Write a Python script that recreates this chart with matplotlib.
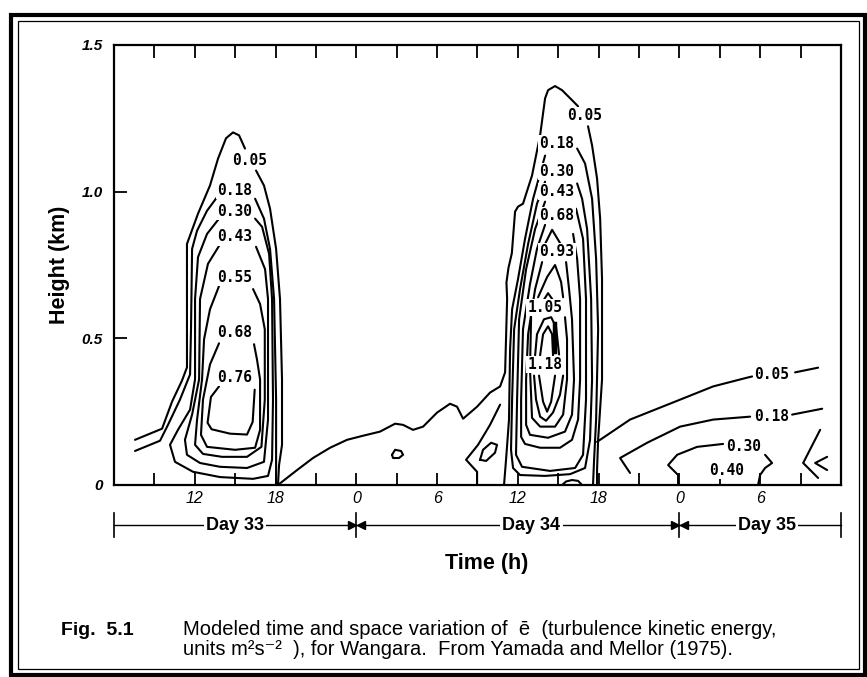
import matplotlib
matplotlib.use('Agg')
import matplotlib.pyplot as plt
from matplotlib.patches import Rectangle
from matplotlib import transforms

plt.rcParams['font.family'] = ['Liberation Sans', 'DejaVu Sans']

# traced contour lines: (time in h from Day 33 00h, height in km)
# Day 33
d33_005a = [(7.56, 0.154), (9.57, 0.192), (10.31, 0.284), (11.05, 0.356), (11.42, 0.401), (11.42, 0.822),
            (12.24, 0.925), (13.13, 1.021), (13.73, 1.113), (14.32, 1.182), (14.84, 1.202), (15.29, 1.192),
            (15.73, 1.147)]
d33_005b = [(16.55, 1.072), (17.14, 1.021), (17.59, 0.942), (18.04, 0.805), (18.33, 0.634), (18.48, 0.36),
            (18.48, 0.137), (18.26, 0.068), (18.18, 0.0)]
d33_018a = [(7.56, 0.116), (9.42, 0.151), (10.01, 0.205), (10.90, 0.291), (11.65, 0.377), (11.72, 0.531),
            (11.80, 0.805), (12.17, 0.867), (12.91, 0.935), (13.73, 0.986)]
d33_018b = [(16.48, 0.976), (17.14, 0.908), (17.59, 0.805), (17.89, 0.634), (18.04, 0.291), (18.04, 0.0)]
d33_030 = [(13.80, 0.908), (12.91, 0.856), (12.24, 0.777), (12.02, 0.634), (12.02, 0.36), (11.65, 0.257),
           (10.75, 0.188), (10.16, 0.137), (10.53, 0.079), (11.87, 0.045), (13.88, 0.027), (16.33, 0.021),
           (17.44, 0.031), (17.74, 0.086), (17.81, 0.291), (17.74, 0.634), (17.52, 0.788), (17.0, 0.88),
           (16.48, 0.908)]
d33_043 = [(13.80, 0.815), (12.98, 0.754), (12.39, 0.634), (12.32, 0.36), (11.80, 0.24), (11.27, 0.154),
           (11.42, 0.103), (12.39, 0.075), (13.88, 0.062), (15.88, 0.058), (17.14, 0.079), (17.44, 0.223),
           (17.44, 0.634), (17.22, 0.736), (16.55, 0.812)]
d33_055 = [(13.80, 0.678), (13.13, 0.599), (12.69, 0.497), (12.54, 0.36), (12.17, 0.223), (12.02, 0.137),
           (12.61, 0.106), (14.02, 0.096), (15.88, 0.096), (16.95, 0.13), (17.2, 0.291), (17.2, 0.531),
           (16.85, 0.617), (16.33, 0.668)]
d33_068 = [(13.80, 0.483), (13.13, 0.411), (12.61, 0.291), (12.46, 0.171), (12.91, 0.13), (14.99, 0.12),
           (16.48, 0.127), (16.85, 0.188), (16.85, 0.36), (16.62, 0.428), (16.40, 0.48)]
d33_076 = [(13.80, 0.336), (13.20, 0.30), (12.95, 0.212), (13.25, 0.19), (14.62, 0.175), (15.88, 0.172),
           (16.30, 0.215), (16.45, 0.325)]

# night and Day 34
d34_005a = [(18.26, 0.003), (19.60, 0.051), (20.78, 0.092), (22.05, 0.127), (23.31, 0.154), (24.50, 0.168),
            (25.76, 0.182), (26.88, 0.209), (27.47, 0.205), (28.21, 0.188), (28.96, 0.199), (30.0, 0.247),
            (30.96, 0.277), (31.48, 0.267), (31.93, 0.226), (32.97, 0.267), (33.93, 0.315), (34.68, 0.336),
            (35.05, 0.384), (35.20, 0.634), (35.15, 0.69), (35.30, 0.74), (35.55, 0.79),
            (35.79, 0.932), (36.01, 0.949), (36.38, 0.959), (37.05, 1.055), (37.65, 1.192), (38.02, 1.318),
            (38.24, 1.346), (38.76, 1.36), (39.28, 1.346), (40.02, 1.312), (40.47, 1.291)]
d34_005b = [(41.21, 1.223), (41.51, 1.158), (41.88, 1.045), (42.11, 0.908), (42.25, 0.702), (42.25, 0.36),
            (41.96, 0.154), (41.88, 0.051), (41.88, 0.0)]
d34_018a = [(38.02, 1.123), (37.65, 1.062), (37.13, 0.976), (36.53, 0.839), (36.01, 0.702), (35.57, 0.599),
            (35.42, 0.462), (35.34, 0.223), (35.12, 0.086), (34.97, 0.0)]
d34_018b = [(40.40, 1.147), (40.99, 1.096), (41.51, 0.976), (41.81, 0.771), (41.96, 0.531), (41.81, 0.223),
            (41.66, 0.086), (41.58, 0.0)]
d34_030 = [(38.02, 1.034), (37.42, 0.959), (36.76, 0.822), (36.16, 0.668), (35.72, 0.531), (35.57, 0.291),
           (35.49, 0.12), (35.64, 0.058), (36.16, 0.034), (38.02, 0.031), (39.88, 0.037), (40.99, 0.058),
           (41.36, 0.154), (41.51, 0.36), (41.44, 0.634), (41.14, 0.873), (40.77, 0.976), (40.40, 1.028)]
d34_043 = [(38.02, 0.966), (37.28, 0.873), (36.61, 0.736), (36.09, 0.565), (35.94, 0.291), (35.86, 0.103),
           (36.31, 0.062), (38.39, 0.048), (40.25, 0.058), (40.84, 0.103), (41.06, 0.291), (41.06, 0.634),
           (40.84, 0.839), (40.32, 0.942)]
d34_068 = [(38.02, 0.887), (37.42, 0.805), (36.90, 0.685), (36.38, 0.531), (36.24, 0.291), (36.24, 0.164),
           (36.53, 0.140), (37.65, 0.127), (39.13, 0.127), (40.02, 0.154), (40.47, 0.223), (40.62, 0.36),
           (40.62, 0.634), (40.40, 0.771), (40.10, 0.856)]
d34_093a = [(38.02, 0.822), (38.54, 0.870), (39.13, 0.825)]
d34_093b = [(37.80, 0.760), (37.28, 0.668), (36.76, 0.514), (36.61, 0.36), (36.61, 0.205), (36.90, 0.171),
            (38.24, 0.161), (39.50, 0.182), (40.02, 0.24), (40.17, 0.36), (40.02, 0.565), (39.80, 0.668),
            (39.58, 0.760)]
d34_105a = [(37.50, 0.640), (38.17, 0.709), (38.76, 0.75), (39.21, 0.692), (39.36, 0.640)]
d34_105b = [(36.98, 0.572), (36.90, 0.394), (37.05, 0.229), (37.65, 0.199), (38.76, 0.199), (39.36, 0.24),
            (39.65, 0.36), (39.65, 0.497), (39.50, 0.572)]
d34_118a = [(37.87, 0.627), (38.24, 0.654), (38.61, 0.630)]
d34_118b = [(37.28, 0.442), (37.42, 0.514), (37.94, 0.565), (38.47, 0.572), (38.84, 0.538), (39.06, 0.445)]
d34_118c = [(37.20, 0.373), (37.35, 0.291), (37.65, 0.233), (38.09, 0.219), (38.61, 0.247), (39.13, 0.308),
            (39.36, 0.373)]
d34_130a = [(37.65, 0.442), (37.87, 0.514), (38.24, 0.541), (38.54, 0.514), (38.61, 0.442)]
d34_130b = [(37.57, 0.373), (37.87, 0.284), (38.17, 0.25), (38.47, 0.284), (38.76, 0.373)]
d34_core = [(38.76, 0.548), (38.76, 0.452)]
d34_hook = [(34.68, 0.274), (33.93, 0.205), (33.04, 0.137), (32.15, 0.086), (32.97, 0.045), (32.97, 0.0)]
d34_oval = [(33.19, 0.086), (33.41, 0.12), (34.01, 0.144), (34.45, 0.137), (34.30, 0.11), (33.64, 0.082),
            (33.19, 0.086)]
night_ring = [(26.65, 0.103), (26.88, 0.12), (27.32, 0.116), (27.47, 0.103), (27.17, 0.092), (26.73, 0.092),
              (26.65, 0.103)]
d34_dome = [(39.28, 0.0), (39.58, 0.012), (40.02, 0.017), (40.47, 0.014), (40.77, 0.0)]

# Day 35
d35_005a = [(41.88, 0.147), (44.33, 0.223), (48.05, 0.291), (50.50, 0.336), (53.03, 0.366), (53.40, 0.37)]
d35_005b = [(56.59, 0.384), (58.30, 0.40)]
d35_018a = [(44.33, 0.041), (43.59, 0.092), (45.60, 0.144), (48.05, 0.199), (50.50, 0.223), (53.25, 0.233)]
d35_018b = [(56.37, 0.24), (58.60, 0.260)]
d35_030a = [(47.90, 0.0), (47.90, 0.034), (47.16, 0.068), (47.83, 0.103), (49.31, 0.13), (51.24, 0.140)]
d35_030b = [(54.36, 0.103), (54.88, 0.075), (54.36, 0.058), (53.99, 0.034), (53.84, 0.0)]
d35_hook1 = [(58.45, 0.188), (57.19, 0.075), (58.30, 0.024)]
d35_hook2 = [(58.97, 0.096), (58.08, 0.075), (58.97, 0.051)]

contour_lines = [d33_005a, d33_005b, d33_018a, d33_018b, d33_030, d33_043, d33_055, d33_068, d33_076,
                 d34_005a, d34_005b, d34_018a, d34_018b, d34_030, d34_043, d34_068, d34_093a, d34_093b,
                 d34_105a, d34_105b, d34_118a, d34_118b, d34_118c, d34_130a, d34_130b, d34_hook, d34_oval,
                 night_ring, d34_dome,
                 d35_005a, d35_005b, d35_018a, d35_018b, d35_030a, d35_030b, d35_hook1, d35_hook2]

label_text = ['0.05', '0.18', '0.30', '0.43', '0.55', '0.68', '0.76',
              '0.05', '0.18', '0.30', '0.43', '0.68', '0.93', '1.05', '1.18',
              '0.05', '0.18', '0.30', '0.40']
label_x = [16.1, 14.95, 14.95, 14.95, 14.95, 14.95, 14.95,
           40.92, 38.91, 38.91, 38.91, 38.91, 38.91, 38.02, 38.02,
           54.88, 54.81, 52.80, 51.54]
label_y = [1.106, 1.003, 0.932, 0.846, 0.709, 0.52, 0.366,
           1.26, 1.165, 1.069, 1.0, 0.918, 0.795, 0.606, 0.411,
           0.377, 0.233, 0.13, 0.051]

xtick_pos = [6, 9, 12, 15, 18, 21, 24, 27, 30, 33, 36, 39, 42, 45, 48, 51, 54, 57, 60]
xtick_lab = ['', '', '12', '', '18', '', '0', '', '6', '', '12', '', '18', '', '0', '', '6', '', '']
ytick_pos = [0, 0.5, 1.0, 1.5]
ytick_lab = ['0', '0.5', '1.0', '1.5']

day_names = ['Day 33', 'Day 34', 'Day 35']
day_text_x = [15.0, 37.0, 54.5]
day_edges = [6, 24, 48, 60]

W, H = 867, 677
fig = plt.figure(figsize=(W / 100, H / 100), dpi=100)
ax = fig.add_axes([114 / W, 1 - 485 / H, 727 / W, 440 / H])

for line in contour_lines:
    xs, ys = zip(*line)
    ax.plot(xs, ys, color='black', lw=1.5, solid_joinstyle='round', solid_capstyle='round')
xs, ys = zip(*d34_core)
ax.plot(xs, ys, color='black', lw=3.2)

for s, x, y in zip(label_text, label_x, label_y):
    ax.text(x, y, s, ha='center', va='center', family='DejaVu Sans Mono', weight='bold', size=10.5,
            bbox=dict(boxstyle='square,pad=0.08', fc='white', ec='none'), zorder=5)

ax.set_xlim(6, 60)
ax.set_ylim(0, 1.5)
for sp in ax.spines.values():
    sp.set_linewidth(1.6)
ax.set_xticks(xtick_pos)
ax.set_xticklabels(xtick_lab, fontstyle='italic', fontsize=11.5)
ax.tick_params(axis='x', direction='in', length=9, width=1.3, top=True, pad=4)
ax.set_yticks(ytick_pos)
ax.set_yticklabels(ytick_lab, fontstyle='italic', fontweight='bold', fontsize=11)
ax.tick_params(axis='y', direction='in', length=9, width=1.3, pad=8)

# day bar under the time axis
tr = transforms.blended_transform_factory(ax.transData, ax.transAxes)
yb = -0.091
ax.plot([6, 60], [yb, yb], color='black', lw=1.0, transform=tr, clip_on=False)
for e in day_edges:
    ax.plot([e, e], [yb - 0.028, yb + 0.028], color='black', lw=1.2, transform=tr, clip_on=False)
for e in day_edges[1:3]:
    ax.plot([e - 0.35], [yb], marker='>', ms=6, color='black', transform=tr, clip_on=False)
    ax.plot([e + 0.35], [yb], marker='<', ms=6, color='black', transform=tr, clip_on=False)
for s, x in zip(day_names, day_text_x):
    ax.text(x, yb, s, transform=tr, ha='center', va='center', weight='bold', size=13,
            bbox=dict(boxstyle='square,pad=0.12', fc='white', ec='none'), zorder=5)

fig.text(60 / W, 1 - 265 / H, 'Height (km)', rotation=90, ha='center', va='center', weight='bold', size=15.5)
fig.text(487 / W, 1 - 563 / H, 'Time (h)', ha='center', va='center', weight='bold', size=15.5)

fig.text(61 / W, 1 - 635 / H, 'Fig.  5.1', ha='left', va='baseline', weight='bold', size=14)
fig.text(183 / W, 1 - 635 / H, 'Modeled time and space variation of  ē  (turbulence kinetic energy,',
         ha='left', va='baseline', size=14.5)
fig.text(183 / W, 1 - 655 / H, 'units m²s⁻²  ), for Wangara.  From Yamada and Mellor (1975).',
         ha='left', va='baseline', size=14.5)

# double frame round the page
fig.add_artist(Rectangle((11 / W, 1 - 675 / H), 854 / W, 660 / H, transform=fig.transFigure,
                         fill=False, ec='black', lw=3))
fig.add_artist(Rectangle((18 / W, 1 - 669 / H), 841 / W, 648 / H, transform=fig.transFigure,
                         fill=False, ec='black', lw=0.9))

fig.savefig('out.png', dpi=100)
